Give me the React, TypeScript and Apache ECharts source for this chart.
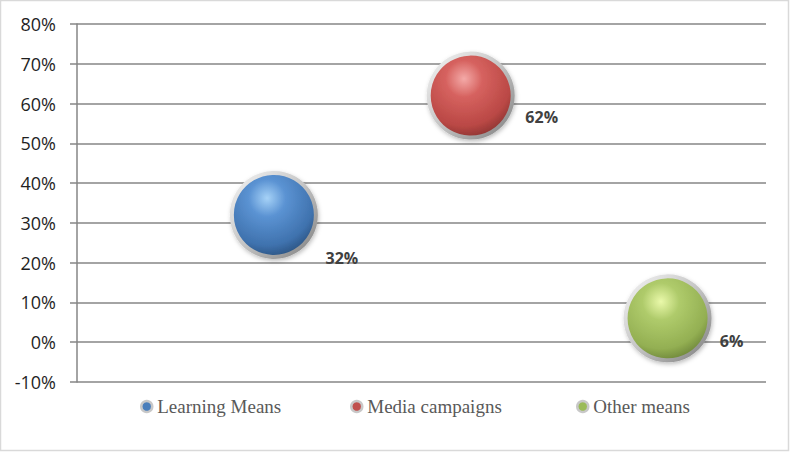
import React, { useEffect, useRef } from "react";
import * as echarts from "echarts";

const categories = ["Learning Means", "Media campaigns", "Other means"];
const xPositions = [1, 2, 3];
const values = [32, 62, 6];
const yTicks = [-10, 0, 10, 20, 30, 40, 50, 60, 70, 80];

const palettes = [
  { hi: "#A6D2F7", mid: "#5B93D3", base: "#3F72AE", edge: "#22466F", dot: "#4A7EBB" },
  { hi: "#F4AAA8", mid: "#D6625F", base: "#BA4845", edge: "#7A2C2A", dot: "#C0504D" },
  { hi: "#EAF9AA", mid: "#AFCB6B", base: "#93AF52", edge: "#5E7530", dot: "#9BBB59" },
];
const labelOffsets = [
  [68, 43],
  [71, 21],
  [64, 23],
];
const legendLefts = [135, 345, 571];

export default function App() {
  const ref = useRef<HTMLDivElement>(null);
  useEffect(() => {
    if (!ref.current) return;
    const chart = echarts.init(ref.current, null, { renderer: "svg" });
    const series = categories.map((name, i) => {
      const p = palettes[i];
      return {
        name,
        type: "scatter",
        symbol: "circle",
        symbolSize: 84,
        data: [
          {
            value: [xPositions[i], values[i]],
            label: { offset: labelOffsets[i] },
          },
        ],
        itemStyle: {
          opacity: 1,
          color: new echarts.graphic.RadialGradient(0.42, 0.3, 0.78, [
            { offset: 0, color: p.hi },
            { offset: 0.28, color: p.mid },
            { offset: 0.72, color: p.base },
            { offset: 1, color: p.edge },
          ]),
          borderWidth: 4,
          borderColor: new echarts.graphic.LinearGradient(0, 0, 1, 1, [
            { offset: 0, color: "#F4F4F4" },
            { offset: 0.5, color: "#C4C4C4" },
            { offset: 1, color: "#808080" },
          ]),
          shadowBlur: 4,
          shadowColor: "rgba(0,0,0,0.25)",
          shadowOffsetX: 1,
          shadowOffsetY: 2,
        },
        label: {
          show: true,
          position: "inside",
          formatter: (d: any) => d.value[1] + "%",
          color: "#404040",
          fontFamily: "Open Sans",
          fontWeight: "bold",
          fontSize: 16,
        },
        emphasis: { disabled: true },
      };
    });
    const legends = categories.map((name, i) => ({
      left: legendLefts[i],
      top: 392,
      itemWidth: 11,
      itemHeight: 11,
      itemGap: 0,
      data: [
        {
          name,
          icon: "circle",
          itemStyle: {
            color: palettes[i].dot,
            borderColor: "#C8C8C8",
            borderWidth: 2.5,
            shadowBlur: 0,
            shadowOffsetX: 0,
            shadowOffsetY: 0,
          },
        },
      ],
      textStyle: {
        fontFamily: "Liberation Serif",
        fontSize: 19,
        color: "#595959",
      },
      selectedMode: false,
    }));
    chart.setOption({
      animation: false,
      backgroundColor: "#ffffff",
      grid: { left: 77, right: 24, top: 24, bottom: 70 },
      xAxis: {
        type: "value",
        min: 0,
        max: 3.5,
        show: false,
      },
      yAxis: {
        type: "value",
        min: yTicks[0],
        max: yTicks[yTicks.length - 1],
        interval: 10,
        axisLine: { show: true, lineStyle: { color: "#868686", width: 1.5 } },
        axisTick: { show: true, length: 7, lineStyle: { color: "#868686", width: 1.5 } },
        splitLine: { show: true, lineStyle: { color: "#868686", width: 1.5 } },
        axisLabel: {
          formatter: "{value}%",
          margin: 21,
          color: "#1F1F1F",
          fontFamily: "Open Sans",
          fontSize: 18,
        },
      },
      legend: legends,
      graphic: [
        {
          type: "rect",
          shape: { x: 0.5, y: 0.5, width: 788, height: 450 },
          style: { fill: "none", stroke: "#D9D9D9", lineWidth: 1.5 },
          silent: true,
        },
      ],
      series,
    });
    return () => chart.dispose();
  }, []);
  return (
    <div
      ref={ref}
      style={{ position: "fixed", left: 0, top: 0, width: 790, height: 452 }}
    />
  );
}
